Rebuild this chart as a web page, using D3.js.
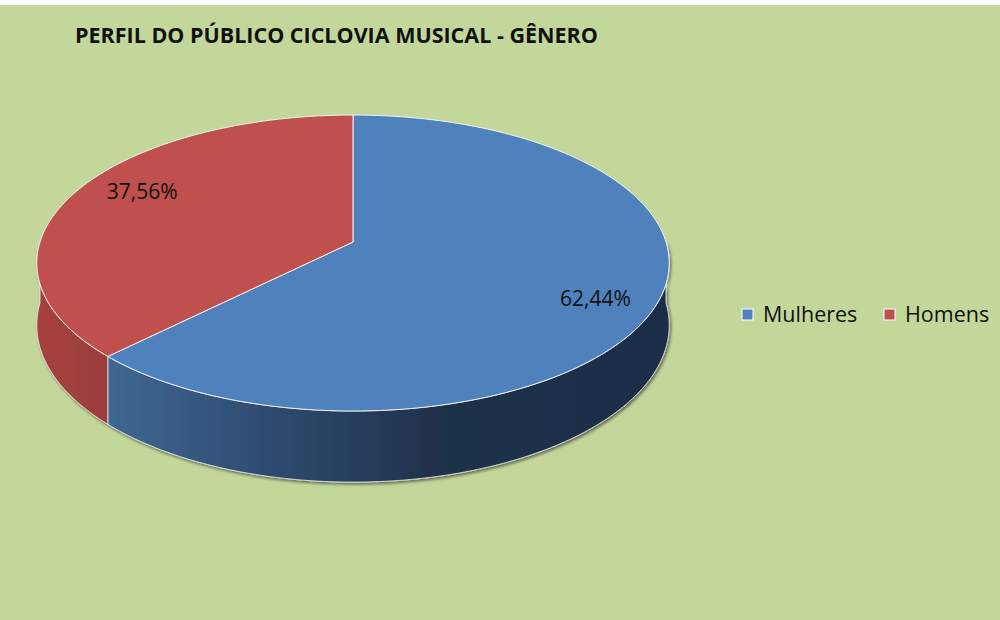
<!DOCTYPE html>
<html>
<head>
<meta charset="utf-8">
<script src="https://cdn.jsdelivr.net/npm/d3@7"></script>
<style>
  html, body { margin: 0; padding: 0; background: #ffffff; }
  svg { display: block; }
</style>
</head>
<body>
<script>
const w = 1000, h = 620;
const categories = ["Mulheres", "Homens"];
const values = [62.44, 37.56];
const labels = ["62,44%", "37,56%"];
const topColors = ["#4f81bd", "#c0504d"];
const title = "PERFIL DO PÚBLICO CICLOVIA MUSICAL - GÊNERO";

// 3d pie: apex, radius, perspective distance, depth
const cx = 353, cy = 242, R = 313, A = 145, d = 7.04, depth = 61;

// theta clockwise from top, r 0..1, drop = vertical offset of the bottom face
const proj = function(theta, r, drop) {
  let x = Math.sin(theta) * r, z = Math.cos(theta) * r;
  let s = d / (d + z);
  return [cx + R * x * s, cy - A * z * s + drop * s];
};

const svg = d3.select("body").append("svg").attr("width", w).attr("height", h);
const defs = svg.append("defs");

svg.append("rect").attr("x", 0).attr("y", 5).attr("width", w).attr("height", h - 5).attr("fill", "#c4d79b");

const shadow = defs.append("filter").attr("id", "shadow")
  .attr("x", "-10%").attr("y", "-10%").attr("width", "120%").attr("height", "130%");
shadow.append("feDropShadow").attr("dx", 1.5).attr("dy", 2).attr("stdDeviation", 1.8)
  .attr("flood-color", "#000").attr("flood-opacity", 0.5);

const gBlue = defs.append("linearGradient").attr("id", "sideBlue")
  .attr("gradientUnits", "userSpaceOnUse").attr("x1", 105).attr("x2", 670).attr("y1", 0).attr("y2", 0);
gBlue.append("stop").attr("offset", 0).attr("stop-color", "#3f6892");
gBlue.append("stop").attr("offset", 0.3).attr("stop-color", "#2e4a6f");
gBlue.append("stop").attr("offset", 0.6).attr("stop-color", "#1f3049");
gBlue.append("stop").attr("offset", 1).attr("stop-color", "#1e2f47");

const gRed = defs.append("linearGradient").attr("id", "sideRed")
  .attr("gradientUnits", "userSpaceOnUse").attr("x1", 35).attr("x2", 112).attr("y1", 0).attr("y2", 0);
gRed.append("stop").attr("offset", 0).attr("stop-color", "#a8413f");
gRed.append("stop").attr("offset", 1).attr("stop-color", "#9a3d3b");

const pie = d3.pie().sort(null).value((v) => v);
const arcs = pie(values);

const line = d3.line();
const step = Math.PI / 180;

const sample = function(a0, a1, r, drop) {
  let pts = [];
  let n = Math.max(2, Math.ceil((a1 - a0) / step));
  for (let i = 0; i <= n; i++) pts.push(proj(a0 + (a1 - a0) * i / n, r, drop));
  return pts;
};

// visible front side between 90deg and 270deg
const sides = svg.append("g").attr("filter", "url(#shadow)");
arcs.forEach((a, i) => {
  let a0 = Math.max(a.startAngle, Math.PI / 2), a1 = Math.min(a.endAngle, 3 * Math.PI / 2);
  if (a1 <= a0) return;
  let top = sample(a0, a1, 1, 0);
  let bottom = sample(a0, a1, 1, depth).reverse();
  sides.append("path")
    .attr("d", line(top.concat(bottom)) + "Z")
    .attr("fill", i === 0 ? "url(#sideBlue)" : "url(#sideRed)")
    .attr("stroke", "#e8eef5").attr("stroke-width", 0.8).attr("stroke-linejoin", "round");
});

// top faces
const tops = svg.append("g");
arcs.forEach((a, i) => {
  let pts = [proj(0, 0, 0)].concat(sample(a.startAngle, a.endAngle, 1, 0));
  tops.append("path")
    .attr("d", line(pts) + "Z")
    .attr("fill", topColors[i])
    .attr("stroke", "#f2f2f2").attr("stroke-width", 1).attr("stroke-linejoin", "round");
});

// data labels
arcs.forEach((a, i) => {
  let m = (a.startAngle + a.endAngle) / 2 + 0.08;
  let p = proj(m, 0.81, 0);
  svg.append("text")
    .attr("x", p[0] + 4).attr("y", p[1] + 8)
    .attr("text-anchor", "middle")
    .attr("font-family", "'Open Sans', sans-serif")
    .attr("font-size", "21px")
    .attr("fill", "#111")
    .text(labels[i]);
});

svg.append("text")
  .attr("x", 75).attr("y", 43)
  .attr("font-family", "'Open Sans', sans-serif")
  .attr("font-weight", "bold")
  .attr("font-size", "21.5px")
  .attr("fill", "#111")
  .text(title);

// legend
const legendX = [742, 884];
const legend = svg.append("g");
categories.forEach((c, i) => {
  legend.append("rect")
    .attr("x", legendX[i]).attr("y", 309).attr("width", 11).attr("height", 11)
    .attr("fill", topColors[i]).attr("stroke", "#fff").attr("stroke-width", 1);
  legend.append("text")
    .attr("x", legendX[i] + 21).attr("y", 322)
    .attr("font-family", "'Open Sans', sans-serif")
    .attr("font-size", "21.5px")
    .attr("fill", "#111")
    .text(c);
});
</script>
</body>
</html>
